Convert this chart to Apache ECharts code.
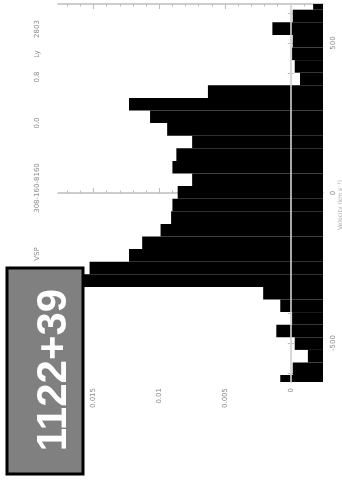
<!DOCTYPE html>
<html>
<head>
<meta charset="utf-8">
<script src="https://cdn.jsdelivr.net/npm/echarts@6/dist/echarts.min.js"></script>
<style>
  html, body {margin: 0; padding: 0; background: #fff;}
  #chart {width: 342px; height: 484px;}
</style>
</head>
<body>
<div id="chart"></div>
<script>
// velocity bin centres (km/s) and flux per bin, top of the plot first
const velocity = [632, 590, 548, 506, 464, 422, 380, 338, 296, 254, 212, 170, 128, 86, 44, 2,
  -40, -82, -124, -166, -208, -250, -292, -334, -376, -418, -460, -502, -544, -586, -628];
const flux = [-0.0017, -0.00015, 0.0014, -0.00015, -0.0001, -0.0003, -0.0007, 0.0063, 0.0123, 0.0107,
  0.0094, 0.0075, 0.0087, 0.0090, 0.0075, 0.0086, 0.0090, 0.0091, 0.0099, 0.0113, 0.0123, 0.0153,
  0.0165, 0.0021, 0.0008, -0.0001, 0.0011, -0.0003, -0.0013, -0.00015, 0.0008];
const binWidth = 42;

const fluxRange = [-0.00245, 0.0177];
const fluxLabels = [0, 0.005, 0.01, 0.015];
const fluxMinor = [-0.002, -0.001, 0, 0.001, 0.002, 0.003, 0.004, 0.005, 0.006, 0.007, 0.008,
  0.009, 0.01, 0.011, 0.012, 0.013, 0.014, 0.015, 0.016, 0.017];
const velocityRange = [-630, 630];
const velocityTicks = [-600, -500, -400, -300, -200, -100, 0, 100, 200, 300, 400, 500, 600];
const velocityLabels = [-500, 0, 500];

const notes = ['2803', 'Ly', '0.8', '0.0', '308-160-8160', 'VSP'];
const objectName = '1122+39';
const velocityTitle = 'Velocity (km s⁻¹)';

const frameColor = '#bdbdbd';
const textColor = '#8a8a8a';

const chart = echarts.init(document.getElementById('chart'));

function fluxAxis(position, ticks, len, withLine, withLabels) {
  return {
    type: 'value', position: position, inverse: true,
    min: fluxRange[0], max: fluxRange[1],
    axisLine: {show: withLine, lineStyle: {color: frameColor, width: 1.5}},
    axisTick: {show: true, inside: true, length: len, customValues: ticks,
      lineStyle: {color: frameColor, width: 1}},
    axisLabel: withLabels ? {show: true, customValues: fluxLabels, rotate: 90, margin: 6,
      fontSize: 7, color: textColor, fontFamily: 'DejaVu Sans'} : {show: false},
    splitLine: {show: false}
  };
}

chart.setOption({
  animation: false,
  backgroundColor: '#fff',
  grid: {left: 58, right: 19, top: 4, bottom: 102, containLabel: false, outerBoundsMode: 'none'},
  xAxis: [
    fluxAxis('bottom', fluxLabels, 5, true, true),
    fluxAxis('bottom', fluxMinor, 2.5, false, false),
    fluxAxis('top', fluxLabels, 5, true, false),
    fluxAxis('top', fluxMinor, 2.5, false, false),
    {
      // zero line over the fill
      type: 'value', position: 'bottom', inverse: true, z: 5,
      min: fluxRange[0], max: fluxRange[1],
      axisLine: {show: false},
      axisTick: {show: false, customValues: [0]},
      axisLabel: {show: false},
      splitLine: {show: true, lineStyle: {color: '#e0e0e0', width: 1.5}}
    }
  ],
  yAxis: [
    {
      type: 'value', position: 'right',
      min: velocityRange[0], max: velocityRange[1],
      axisLine: {show: true, lineStyle: {color: frameColor, width: 1.5}},
      axisTick: {show: true, inside: true, length: 3, customValues: velocityTicks,
        lineStyle: {color: frameColor}},
      axisLabel: {customValues: velocityLabels, rotate: 90, margin: 7,
        fontSize: 7, color: textColor, fontFamily: 'DejaVu Sans'},
      splitLine: {show: false}
    },
    {
      type: 'value', position: 'left',
      min: velocityRange[0], max: velocityRange[1],
      axisLine: {show: true, lineStyle: {color: frameColor, width: 1.5}},
      axisTick: {show: true, inside: true, length: 3, customValues: velocityTicks,
        lineStyle: {color: frameColor}},
      axisLabel: {show: false},
      splitLine: {show: false}
    }
  ],
  series: [{
    type: 'custom',
    xAxisIndex: 0, yAxisIndex: 0,
    data: velocity.map((v, i) => [flux[i], v]),
    encode: {x: 0, y: 1},
    renderItem(params, api) {
      const v = api.value(1);
      const a = api.coord([fluxRange[0], v + binWidth / 2]);
      const b = api.coord([api.value(0), v - binWidth / 2]);
      const x0 = Math.min(a[0], b[0]);
      const cs = params.coordSys;
      const rect = echarts.graphic.clipRectByRect(
        {x: x0, y: a[1], width: Math.abs(a[0] - b[0]), height: b[1] - a[1]},
        {x: cs.x, y: cs.y, width: cs.width, height: cs.height});
      return rect && {type: 'rect', shape: rect, style: {fill: '#000'}};
    }
  }],
  graphic: [
    ...notes.map((t, i) => ({
      type: 'text', x: 37, y: [29, 54, 77, 123, 188, 254][i], rotation: Math.PI / 2,
      style: {text: t, fontSize: 7, fill: textColor, align: 'center', verticalAlign: 'middle',
        fontFamily: 'DejaVu Sans'}
    })),
    {
      type: 'text', x: 340, y: 205, rotation: Math.PI / 2,
      style: {text: velocityTitle, fontSize: 6, fill: '#a8a8a8', align: 'center',
        verticalAlign: 'middle', fontFamily: 'DejaVu Sans'}
    },
    {
      type: 'rect', z: 100,
      shape: {x: 7, y: 268, width: 76, height: 206},
      style: {fill: '#808080', stroke: '#000', lineWidth: 3}
    },
    {
      type: 'text', z: 101, x: 54, y: 370, rotation: Math.PI / 2,
      style: {text: objectName, fontSize: 42, fontWeight: 'bold', fill: '#fff',
        align: 'center', verticalAlign: 'middle', fontFamily: 'Liberation Sans'}
    }
  ]
});
</script>
</body>
</html>
